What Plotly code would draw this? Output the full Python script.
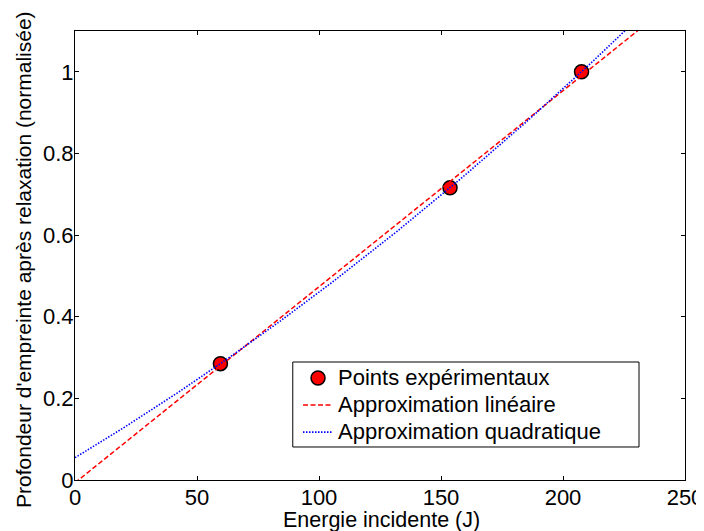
import numpy as np
import plotly.graph_objects as go

energy = [59.6, 153.7, 207.6]
depth = [0.285, 0.716, 1.0]

x_ticks = [0, 50, 100, 150, 200, 250]
y_ticks = [0, 0.2, 0.4, 0.6, 0.8, 1.0]
y_tick_text = ["0", "0.2", "0.4", "0.6", "0.8", "1"]

series_names = ["Points expérimentaux", "Approximation linéaire", "Approximation quadratique"]

# Fits of the experimental points (as in the original figure)
x_fit = np.linspace(0, 250, 501)
lin = np.polyfit(energy, depth, 1)
quad = np.polyfit(energy, depth, 2)

font = "Liberation Sans, Arial, sans-serif"
FS = 22


def legend_label(s):
    return '<span style="font-size:22px">' + s + '</span>'


fig = go.Figure()
fig.add_trace(go.Scatter(
    x=energy, y=depth, mode="markers", name=legend_label(series_names[0]),
    marker=dict(color="#ff0000", size=14, line=dict(color="black", width=1.5)),
))
fig.add_trace(go.Scatter(
    x=x_fit, y=np.polyval(lin, x_fit), mode="lines", name=legend_label(series_names[1]),
    line=dict(color="#ff0000", width=1.5, dash="5px,2.5px"),
))
fig.add_trace(go.Scatter(
    x=x_fit, y=np.polyval(quad, x_fit), mode="lines", name=legend_label(series_names[2]),
    line=dict(color="#0000ff", width=1.6, dash="1.5px,1.5px"),
))

axis_common = dict(
    showgrid=False, zeroline=False, showline=True, linecolor="black", linewidth=1,
    mirror="ticks", ticks="inside", ticklen=4, tickcolor="black", tickwidth=1,
    tickfont=dict(family=font, size=FS, color="black"), automargin=False,
)

# legend frame (paper coords of plot area)
fig.add_shape(type="rect", xref="paper", yref="paper",
              x0=0.357, x1=0.9246, y0=0.0735, y1=0.2628,
              line=dict(color="black", width=1), fillcolor="white", layer="above")

fig.add_annotation(text="Energie incidente (J)", xref="paper", yref="paper",
                   x=0.503, y=-0.0902, xanchor="center", yanchor="middle", showarrow=False,
                   font=dict(family=font, size=21.5, color="black"))
fig.add_annotation(text="Profondeur d'empreinte après relaxation (normalisée)",
                   xref="paper", yref="paper", x=-0.0836, y=0.49, textangle=-90,
                   xanchor="center", yanchor="middle", showarrow=False,
                   font=dict(family=font, size=21, color="black"))

# page body has an 8px margin; figure is sized/offset so the plot area lands where the reference has it
fig.update_layout(
    width=696, height=523,
    margin=dict(l=67, r=19, t=23, b=51, autoexpand=False),
    paper_bgcolor="white", plot_bgcolor="white",
    font=dict(family=font, size=FS, color="black"),
    xaxis=dict(range=[0, 250], tickvals=x_ticks, ticktext=[str(v) for v in x_ticks],
               ticklabelstandoff=-2, **axis_common),
    yaxis=dict(range=[0, 1.1], tickvals=y_ticks, ticktext=y_tick_text,
               ticklabelstandoff=-4, **axis_common),
    legend=dict(
        x=0.3656, y=0.2684, xanchor="left", yanchor="top",
        bgcolor="rgba(0,0,0,0)", borderwidth=0,
        font=dict(family=font, size=18.5, color="black"),
        tracegroupgap=0,
    ),
    showlegend=True,
)

fig.write_html("out.html")
